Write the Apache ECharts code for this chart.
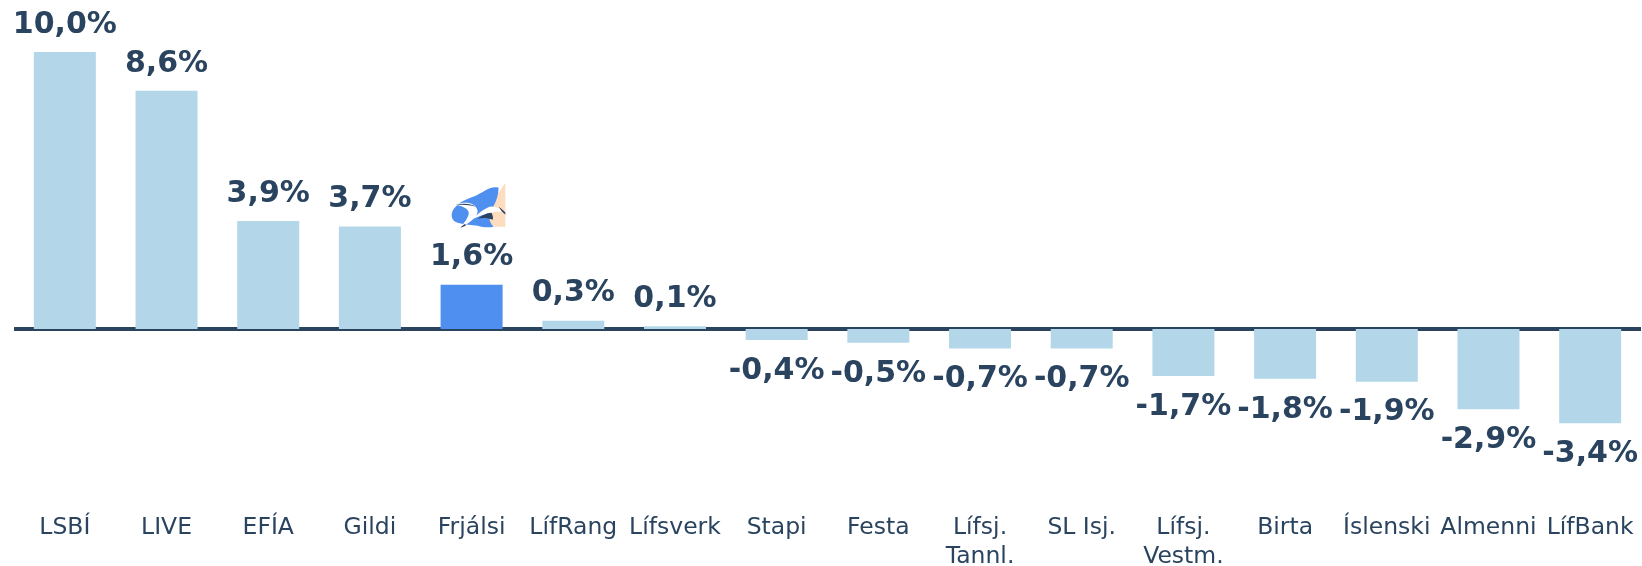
<!DOCTYPE html>
<html><head><meta charset="utf-8">
<style>html,body{margin:0;padding:0;background:#fff}#c{width:1642px;height:566px}</style>
<script src="https://cdn.jsdelivr.net/npm/echarts@6/dist/echarts.min.js"></script>
</head><body><div id="c"></div>
<script>
const categories = ['LSBÍ','LIVE','EFÍA','Gildi','Frjálsi','LífRang','Lífsverk','Stapi','Festa','Lífsj.\nTannl.','SL Isj.','Lífsj.\nVestm.','Birta','Íslenski','Almenni','LífBank'];
const values = [10.0,8.6,3.9,3.7,1.6,0.3,0.1,-0.4,-0.5,-0.7,-0.7,-1.7,-1.8,-1.9,-2.9,-3.4];
const highlighted = 'Frjálsi';

const ink = '#2a4460', barColor = '#b3d7e8', hiColor = '#4f8ff0';
const font = '"DejaVu Sans", Verdana, sans-serif';

const logoSvg = `<svg xmlns="http://www.w3.org/2000/svg" width="68" height="46" viewBox="-14 0 68 46">
<path d="M54 0 L54 44 L30 44 C38 30 44 12 54 0 Z" fill="#fddcc0"/>
<path d="M47 5 C38 3 33 9 26 12 C18 16 10 17 4 24 C-2 30 -1 38 6 40 C14 42 20 42 26 43 C32 45 38 45 42 44 C36 38 37 31 41 25 C45 18 47 12 47 5 Z" fill="#4f8ff0"/>
<path d="M4 22 C14 18 24 20 26 28 C26 33 22 38 9 45 C14 38 18 33 17 29 C15 25 10 23 4 22 Z M20 37 C28 30 36 23 41 24 C46 24 50 26 53 30 C48 28 44 29 40 30 C33 31 26 34 20 37 Z" fill="#ffffff"/>
<path d="M4 22 C12 20 20 21 24 24 C18 22 11 22 4 22 Z M26 36 C30 33 36 30 40 30 C41 33 42 35 41 37 C36 35 31 35 26 36 Z M47 24 C50 26 52 28 54 30 L54 32 C51 30 49 27 47 24 Z M9 45 C10 43 12 42 14 41 L14 43 Z" fill="#2a4460"/>
</svg>`;
const logoUri = 'data:image/svg+xml;charset=utf-8,' + encodeURIComponent(logoSvg);

const fmt = v => v.toFixed(1).replace('.', ',') + '%';

const chart = echarts.init(document.getElementById('c'), null, {renderer:'canvas'});
chart.setOption({
  animation:false,
  backgroundColor:'#ffffff',
  grid:{left:14,right:1,top:52,height:415.5,containLabel:false,outerBoundsMode:'none'},
  xAxis:[
    {type:'category',data:categories,position:'bottom',
     axisLine:{show:false,onZero:false},axisTick:{show:false},
     axisLabel:{color:ink,fontFamily:font,fontSize:23.5,lineHeight:29,margin:46,interval:0,verticalAlign:'top'}},
    {type:'category',data:categories,position:'bottom',
     axisLine:{show:true,onZero:true,lineStyle:{color:ink,width:4,cap:'butt'}},axisTick:{show:false},axisLabel:{show:false}}
  ],
  yAxis:{type:'value',min:-5,max:10,interval:5,show:false,splitLine:{show:false}},
  series:[{
    type:'bar',xAxisIndex:0,barWidth:62,z:1,
    data:categories.map((c,i)=>({
      value:values[i],
      itemStyle:{color:c===highlighted?hiColor:barColor},
      label:{position:values[i]<0?'bottom':'top',distance:values[i]<0?16:12}
    })),
    label:{show:true,color:ink,fontFamily:font,fontWeight:'bold',fontSize:30,
      formatter:p=>categories[p.dataIndex]===highlighted?`{logo|}\n{v|${fmt(p.value)}}`:fmt(p.value),
      rich:{
        logo:{width:68,height:46,align:'center',backgroundColor:{image:logoUri}},
        v:{color:ink,fontFamily:font,fontWeight:'bold',fontSize:30,lineHeight:44,padding:[14,0,0,0]}
      }}
  }]
});
</script></body></html>
